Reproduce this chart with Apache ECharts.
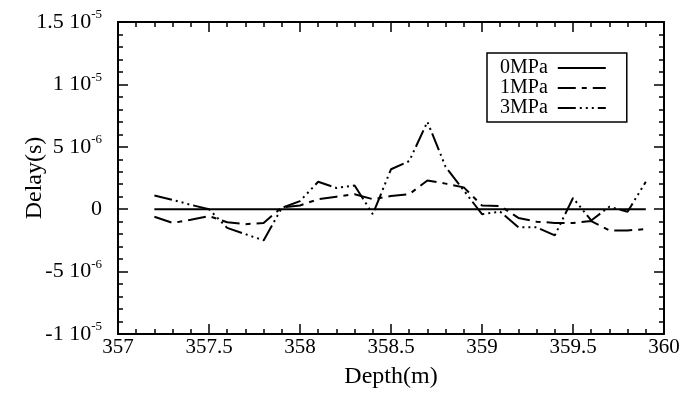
<!DOCTYPE html>
<html>
<head>
<meta charset="utf-8">
<script src="https://cdn.jsdelivr.net/npm/echarts@6/dist/echarts.min.js"></script>
<style>
  html, body { margin: 0; padding: 0; background: #fff; }
  #chart { width: 697px; height: 394px; }
</style>
</head>
<body>
<div id="chart"></div>
<script>
// depth samples (m)
var depths = [357.2, 357.3, 357.4, 357.5, 357.6, 357.7, 357.8, 357.9, 358.0, 358.1,
  358.2, 358.3, 358.4, 358.5, 358.6, 358.7, 358.8, 358.9, 359.0, 359.1,
  359.2, 359.3, 359.4, 359.5, 359.6, 359.7, 359.8, 359.9];

// delay (s) for each pressure
var delay0 = [0, 0, 0, 0, 0, 0, 0, 0, 0, 0, 0, 0, 0, 0, 0, 0, 0, 0, 0, 0,
  0, 0, 0, 0, 0, 0, 0, 0];
var delay1 = [-0.6e-6, -1.1e-6, -0.85e-6, -0.55e-6, -1.05e-6, -1.2e-6, -1.1e-6, 0.15e-6, 0.3e-6, 0.8e-6,
  1.0e-6, 1.2e-6, 0.8e-6, 1.05e-6, 1.2e-6, 2.3e-6, 2.05e-6, 1.75e-6, 0.3e-6, 0.25e-6,
  -0.7e-6, -1.0e-6, -1.1e-6, -1.1e-6, -0.95e-6, -1.7e-6, -1.7e-6, -1.6e-6];
var delay3 = [1.1e-6, 0.75e-6, 0.35e-6, 0.0, -1.5e-6, -2.0e-6, -2.5e-6, 0.1e-6, 0.65e-6, 2.2e-6,
  1.7e-6, 1.9e-6, -0.4e-6, 3.2e-6, 3.85e-6, 7.0e-6, 3.4e-6, 1.5e-6, -0.4e-6, -0.2e-6,
  -1.45e-6, -1.45e-6, -2.1e-6, 0.9e-6, -0.9e-6, 0.2e-6, -0.2e-6, 2.2e-6];

var seriesNames = ['0MPa', '1MPa', '3MPa'];

// y tick labels: mantissa and exponent, from bottom to top
var yTickLabels = [['-1', '-5'], ['-5', '-6'], ['0', ''], ['5', '-6'], ['1', '-5'], ['1.5', '-5']];
var yMin = -1e-5, yMax = 1.5e-5, yStep = 5e-6;

function pairs(ys) {
  return depths.map(function (d, i) { return [d, ys[i]]; });
}

var font = 'Liberation Serif';
var chart = echarts.init(document.getElementById('chart'));

var tickStyle = { inside: true, length: 10, lineStyle: { color: '#000', width: 1.5 } };
var minorStyle = { show: true, splitNumber: 5, length: 5, lineStyle: { color: '#000', width: 1.5 } };
var frameLine = { show: true, onZero: false, lineStyle: { color: '#000', width: 2 } };

var option = {
  backgroundColor: '#fff',
  animation: false,
  textStyle: { fontFamily: font, color: '#000' },
  grid: { left: 118, right: 33, top: 22, bottom: 60 },
  legend: {
    orient: 'vertical',
    left: 487,
    top: 53,
    align: 'right',
    data: seriesNames,
    itemWidth: 48,
    itemHeight: 14,
    itemGap: 0,
    padding: [5, 20, 4, 13],
    borderColor: '#000',
    borderWidth: 1.5,
    borderRadius: 0,
    itemStyle: { color: 'rgba(0,0,0,0)', borderWidth: 0, opacity: 0 },
    textStyle: { fontFamily: font, fontSize: 20, color: '#000', lineHeight: 20, padding: [0, 5, 0, 0] }
  },
  xAxis: [{
    type: 'value',
    min: 357, max: 360, interval: 0.5,
    name: 'Depth(m)',
    nameLocation: 'middle',
    nameGap: 31,
    nameTextStyle: { fontFamily: font, fontSize: 24, color: '#000' },
    axisLine: frameLine,
    axisTick: tickStyle,
    minorTick: minorStyle,
    axisLabel: { fontFamily: font, fontSize: 21, color: '#000', margin: 3 },
    splitLine: { show: false }
  }, {
    type: 'value', position: 'top',
    min: 357, max: 360, interval: 0.5,
    axisLine: frameLine,
    axisTick: tickStyle,
    minorTick: minorStyle,
    axisLabel: { show: false },
    splitLine: { show: false }
  }],
  yAxis: [{
    type: 'value',
    min: yMin, max: yMax, interval: yStep,
    name: 'Delay(s)',
    nameLocation: 'middle',
    nameGap: 71,
    nameMoveOverlap: false,
    nameRotate: 90,
    nameTextStyle: { fontFamily: font, fontSize: 24, color: '#000' },
    axisLine: frameLine,
    axisTick: tickStyle,
    minorTick: minorStyle,
    axisLabel: {
      margin: 16,
      formatter: function (v) {
        var t = yTickLabels[Math.round((v - yMin) / yStep)];
        if (!t) return '';
        return t[1] ? '{m|' + t[0] + ' 10}{e|' + t[1] + '}' : '{m|' + t[0] + '}';
      },
      rich: {
        m: { fontFamily: font, fontSize: 22, color: '#000' },
        e: { fontFamily: font, fontSize: 13, color: '#000', padding: [0, 0, 14, 0] }
      }
    },
    splitLine: { show: false }
  }, {
    type: 'value', position: 'right',
    min: yMin, max: yMax, interval: yStep,
    axisLine: frameLine,
    axisTick: { show: true, inside: true, length: 10, lineStyle: { color: '#000', width: 1.5 } },
    minorTick: minorStyle,
    axisLabel: { show: false },
    splitLine: { show: false }
  }],
  series: [{
    name: seriesNames[0], type: 'line', data: pairs(delay0),
    symbol: 'none', color: '#000',
    lineStyle: { color: '#000', width: 2, type: 'solid' }
  }, {
    name: seriesNames[1], type: 'line', data: pairs(delay1),
    symbol: 'none', color: '#000',
    lineStyle: { color: '#000', width: 2, type: [18, 6, 5, 6] }
  }, {
    name: seriesNames[2], type: 'line', data: pairs(delay3),
    symbol: 'none', color: '#000',
    lineStyle: { color: '#000', width: 2, type: [18, 4, 2, 4, 2, 4, 2, 4] }
  }]
};

chart.setOption(option);
</script>
</body>
</html>
